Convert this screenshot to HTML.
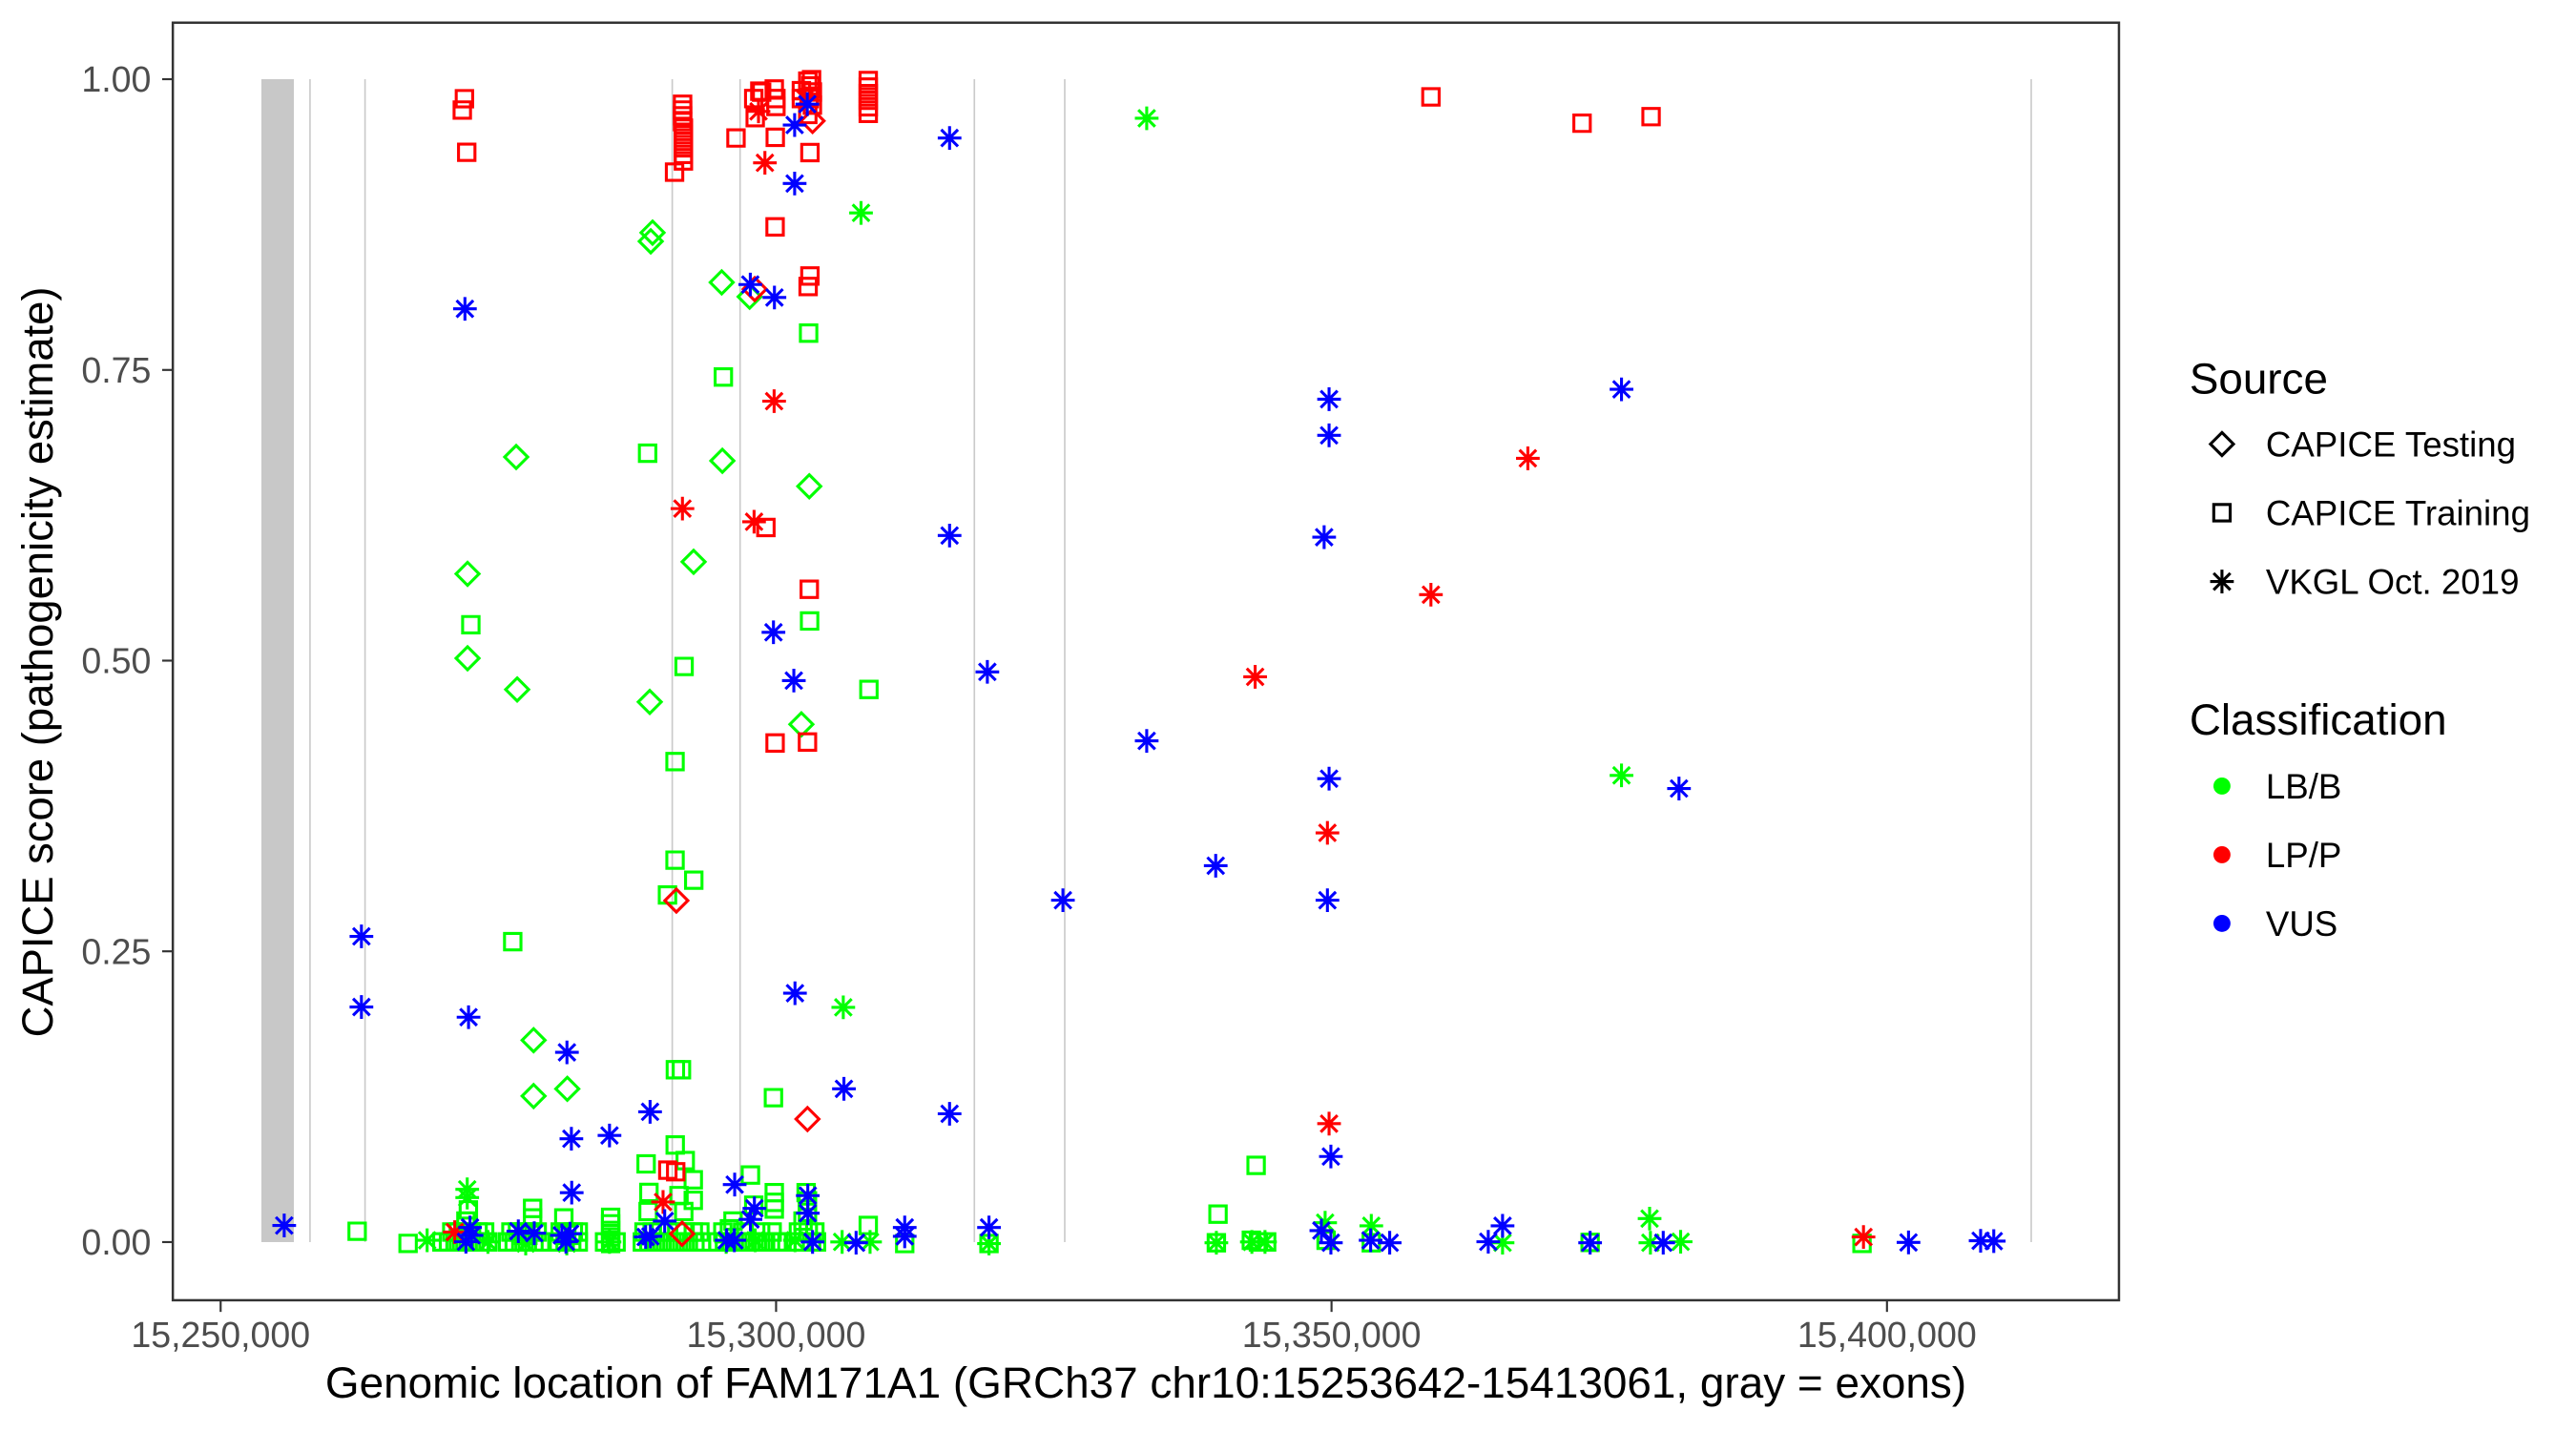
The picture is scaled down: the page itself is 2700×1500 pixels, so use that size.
<!DOCTYPE html>
<html><head><meta charset="utf-8"><style>html,body{margin:0;padding:0;background:#fff}svg{display:block}</style></head>
<body>
<svg xmlns="http://www.w3.org/2000/svg" width="2700" height="1500" viewBox="0 0 1568 871.1" preserveAspectRatio="none" font-family="'Liberation Sans', Arial, sans-serif">
<defs>
<path id="s" d="M-5,-5h10v10h-10z"/>
<path id="d" d="M0,-7L7,0L0,7L-7,0z"/>
<path id="a" d="M0,-7.2V7.2M-7.2,0H7.2M-5.1,-5.1L5.1,5.1M-5.1,5.1L5.1,-5.1"/>
</defs>
<rect width="1568" height="871.1" fill="#fff"/>
<!-- exons -->
<rect x="159.1" y="48.2" width="19.8" height="707.9" fill="#C8C8C8"/>
<g stroke="#CACACA" stroke-width="0.95">
<line x1="188.7" y1="48.2" x2="188.7" y2="756.1"/>
<line x1="222.2" y1="48.2" x2="222.2" y2="756.1"/>
<line x1="409.2" y1="48.2" x2="409.2" y2="756.1"/>
<line x1="450.5" y1="48.2" x2="450.5" y2="756.1"/>
<line x1="593.1" y1="48.2" x2="593.1" y2="756.1"/>
<line x1="648.1" y1="48.2" x2="648.1" y2="756.1"/>
<line x1="1236.4" y1="48.2" x2="1236.4" y2="756.1"/>
</g>
<!-- green -->
<g fill="none" stroke="#00FF00" stroke-width="1.8">
<use href="#s" x="492.2" y="202.8"/><use href="#s" x="440.3" y="229.5"/><use href="#s" x="394.2" y="275.9"/><use href="#s" x="286.6" y="380.3"/><use href="#s" x="492.8" y="378"/><use href="#s" x="416.4" y="405.7"/><use href="#s" x="528.9" y="419.7"/><use href="#s" x="410.9" y="463.6"/><use href="#s" x="410.9" y="523.6"/><use href="#s" x="422.3" y="535.8"/><use href="#s" x="406.3" y="544.8"/><use href="#s" x="312.1" y="573.2"/><use href="#s" x="411.1" y="651.2"/><use href="#s" x="414.8" y="651.2"/><use href="#s" x="470.8" y="668.2"/><use href="#s" x="411" y="697"/><use href="#s" x="456.8" y="715.3"/><use href="#s" x="393.3" y="708.5"/><use href="#s" x="417.1" y="706.5"/><use href="#s" x="422" y="718.2"/><use href="#s" x="395" y="725.9"/><use href="#s" x="422" y="730.7"/><use href="#s" x="413.3" y="727.8"/><use href="#s" x="394.5" y="737.5"/><use href="#s" x="416.2" y="737.5"/><use href="#s" x="285.1" y="736.5"/><use href="#s" x="283.6" y="743.3"/><use href="#s" x="324.2" y="735.6"/><use href="#s" x="324.2" y="741.4"/><use href="#s" x="343.2" y="741.4"/><use href="#s" x="371.7" y="741"/><use href="#s" x="371.7" y="745"/><use href="#s" x="371.7" y="749"/><use href="#s" x="371.7" y="753"/><use href="#s" x="371.7" y="757"/><use href="#s" x="471.3" y="726"/><use href="#s" x="471.3" y="731.9"/><use href="#s" x="471.3" y="736"/><use href="#s" x="458.8" y="733.6"/><use href="#s" x="446.2" y="743.3"/><use href="#s" x="444" y="748"/><use href="#s" x="490.7" y="726"/><use href="#s" x="491.5" y="731"/><use href="#s" x="491.5" y="738"/><use href="#s" x="488.8" y="743.3"/><use href="#s" x="528.5" y="746"/><use href="#s" x="550.7" y="757"/><use href="#s" x="217.4" y="749.5"/><use href="#s" x="248.4" y="756.9"/><use href="#s" x="764.6" y="709.4"/><use href="#s" x="741.4" y="739.1"/><use href="#s" x="740.4" y="756.5"/><use href="#s" x="761.7" y="755"/><use href="#s" x="766" y="756"/><use href="#s" x="771" y="756"/><use href="#s" x="807.2" y="755"/><use href="#s" x="834.7" y="756.5"/><use href="#s" x="967.9" y="756.3"/><use href="#s" x="1133.4" y="756.9"/><use href="#s" x="602" y="757"/>
<use href="#s" x="275" y="750"/><use href="#s" x="279" y="750"/><use href="#s" x="283" y="750"/><use href="#s" x="287" y="750"/><use href="#s" x="291" y="750"/><use href="#s" x="295" y="750"/>
<use href="#s" x="269" y="756"/><use href="#s" x="273" y="756"/><use href="#s" x="277" y="756"/><use href="#s" x="281" y="756"/><use href="#s" x="285" y="756"/><use href="#s" x="289" y="756"/><use href="#s" x="293" y="756"/><use href="#s" x="297" y="756"/>
<use href="#s" x="311" y="750"/><use href="#s" x="315" y="750"/><use href="#s" x="319" y="750"/><use href="#s" x="323" y="750"/><use href="#s" x="327" y="750"/>
<use href="#s" x="309" y="756"/><use href="#s" x="313" y="756"/><use href="#s" x="317" y="756"/><use href="#s" x="321" y="756"/><use href="#s" x="325" y="756"/><use href="#s" x="329" y="756"/>
<use href="#s" x="341" y="750"/><use href="#s" x="345" y="750"/><use href="#s" x="349" y="750"/><use href="#s" x="352" y="750"/>
<use href="#s" x="340" y="756"/><use href="#s" x="344" y="756"/><use href="#s" x="348" y="756"/><use href="#s" x="352" y="756"/>
<use href="#s" x="368" y="756"/><use href="#s" x="375" y="756"/>
<use href="#s" x="392" y="750"/><use href="#s" x="397" y="750"/><use href="#s" x="402" y="750"/><use href="#s" x="407" y="750"/><use href="#s" x="412" y="750"/><use href="#s" x="417" y="750"/><use href="#s" x="422" y="750"/><use href="#s" x="426" y="750"/>
<use href="#s" x="391" y="756"/><use href="#s" x="395" y="756"/><use href="#s" x="399" y="756"/><use href="#s" x="403" y="756"/><use href="#s" x="407" y="756"/><use href="#s" x="411" y="756"/><use href="#s" x="415" y="756"/><use href="#s" x="419" y="756"/><use href="#s" x="423" y="756"/><use href="#s" x="427" y="756"/>
<use href="#s" x="437" y="756"/><use href="#s" x="441" y="756"/><use href="#s" x="445" y="756"/><use href="#s" x="449" y="756"/><use href="#s" x="453" y="756"/><use href="#s" x="457" y="756"/><use href="#s" x="461" y="756"/><use href="#s" x="465" y="756"/><use href="#s" x="469" y="756"/><use href="#s" x="473" y="756"/><use href="#s" x="476" y="756"/>
<use href="#s" x="440" y="750"/><use href="#s" x="452" y="750"/><use href="#s" x="463" y="750"/><use href="#s" x="470" y="750"/>
<use href="#s" x="486" y="750"/><use href="#s" x="492" y="750"/><use href="#s" x="496" y="750"/>
<use href="#s" x="484" y="756"/><use href="#s" x="489" y="756"/><use href="#s" x="494" y="756"/><use href="#s" x="497" y="756"/>
<use href="#d" x="397.2" y="141.6"/><use href="#d" x="396.1" y="146.9"/><use href="#d" x="439.3" y="171.9"/><use href="#d" x="456.3" y="180.6"/><use href="#d" x="314.2" y="278.2"/><use href="#d" x="439.7" y="280.5"/><use href="#d" x="492.6" y="296"/><use href="#d" x="422.2" y="342"/><use href="#d" x="284.6" y="349.3"/><use href="#d" x="284.6" y="400.7"/><use href="#d" x="314.8" y="419.7"/><use href="#d" x="395.5" y="427.3"/><use href="#d" x="487.8" y="440.9"/><use href="#d" x="324.8" y="633.2"/><use href="#d" x="345.3" y="662.8"/><use href="#d" x="324.8" y="667.2"/>
<use href="#a" x="698" y="72"/><use href="#a" x="524.1" y="129.6"/><use href="#a" x="513.3" y="613.2"/><use href="#a" x="260" y="755"/><use href="#a" x="284.4" y="724"/><use href="#a" x="284.4" y="729"/><use href="#a" x="459.7" y="755"/><use href="#a" x="442" y="756"/><use href="#a" x="483.9" y="755"/><use href="#a" x="512.6" y="756"/><use href="#a" x="529.6" y="756"/><use href="#a" x="371" y="756"/><use href="#a" x="740.4" y="756.5"/><use href="#a" x="762" y="756"/><use href="#a" x="770" y="756"/><use href="#a" x="806.6" y="744.3"/><use href="#a" x="834.7" y="746.2"/><use href="#a" x="914.6" y="756.5"/><use href="#a" x="1004.1" y="741.8"/><use href="#a" x="1004.6" y="756.5"/><use href="#a" x="1023" y="755.9"/><use href="#a" x="987" y="472"/><use href="#a" x="602" y="757"/><use href="#a" x="320" y="757"/><use href="#a" x="345" y="757"/><use href="#a" x="297" y="756"/>
</g>
<!-- red -->
<g fill="none" stroke="#FF0000" stroke-width="1.8">
<use href="#s" x="282.7" y="60.1"/><use href="#s" x="281.4" y="67"/><use href="#s" x="284.1" y="92.7"/>
<use href="#s" x="415.5" y="63.5"/><use href="#s" x="415.5" y="67"/><use href="#s" x="415.5" y="70.5"/><use href="#s" x="415.5" y="74"/><use href="#s" x="416" y="78"/><use href="#s" x="416" y="82"/><use href="#s" x="416" y="86"/><use href="#s" x="416" y="90"/><use href="#s" x="416" y="94"/><use href="#s" x="416" y="98"/>
<use href="#s" x="410.6" y="104.8"/><use href="#s" x="448" y="84"/>
<use href="#s" x="458.8" y="60"/><use href="#s" x="463.6" y="56.1"/><use href="#s" x="471.3" y="54.2"/><use href="#s" x="472.3" y="60"/><use href="#s" x="472.3" y="64.8"/><use href="#s" x="459.7" y="71.6"/><use href="#s" x="462.5" y="55.5"/><use href="#s" x="471.9" y="83.6"/>
<use href="#s" x="487.8" y="55.2"/><use href="#s" x="491.7" y="49.4"/><use href="#s" x="493.6" y="52.3"/><use href="#s" x="487.8" y="60"/><use href="#s" x="492.5" y="60"/><use href="#s" x="491.7" y="69.7"/><use href="#s" x="494" y="48.5"/><use href="#s" x="494.5" y="56"/><use href="#s" x="494.5" y="64"/>
<use href="#s" x="493" y="92.9"/>
<use href="#s" x="528.5" y="49"/><use href="#s" x="528.5" y="53"/><use href="#s" x="528.5" y="57"/><use href="#s" x="528.5" y="61"/><use href="#s" x="528.5" y="65"/><use href="#s" x="528.5" y="69"/>
<use href="#s" x="471.8" y="138.1"/><use href="#s" x="493" y="168"/><use href="#s" x="491.9" y="174.4"/><use href="#s" x="466.2" y="321.1"/><use href="#s" x="492.6" y="358.7"/><use href="#s" x="471.8" y="452.3"/><use href="#s" x="491.5" y="451.7"/><use href="#s" x="406.5" y="712.3"/><use href="#s" x="411.3" y="713.3"/>
<use href="#s" x="871" y="59"/><use href="#s" x="963" y="75"/><use href="#s" x="1005" y="71"/>
<use href="#d" x="459.4" y="176"/><use href="#d" x="411.7" y="548.2"/><use href="#d" x="491.5" y="681.2"/><use href="#d" x="415.2" y="751"/><use href="#d" x="494.6" y="73.6"/>
<use href="#a" x="461.7" y="67.8"/><use href="#a" x="465.6" y="99.1"/><use href="#a" x="471.2" y="244.2"/><use href="#a" x="415.4" y="309.6"/><use href="#a" x="459" y="317.6"/><use href="#a" x="403.6" y="731.7"/><use href="#a" x="276.8" y="750"/><use href="#a" x="490" y="60"/><use href="#a" x="930" y="279"/><use href="#a" x="871" y="362"/><use href="#a" x="764" y="412"/><use href="#a" x="808" y="507"/><use href="#a" x="809" y="684"/><use href="#a" x="1134.3" y="753"/>
</g>
<!-- blue -->
<g fill="none" stroke="#0000FF" stroke-width="1.8">
<use href="#a" x="173" y="746"/><use href="#a" x="220" y="570"/><use href="#a" x="220" y="613"/><use href="#a" x="283" y="188"/><use href="#a" x="285.2" y="619.2"/><use href="#a" x="345.1" y="640.6"/><use href="#a" x="395.7" y="676.8"/><use href="#a" x="347.8" y="693.2"/><use href="#a" x="371" y="691.2"/><use href="#a" x="348" y="726"/><use href="#a" x="286.1" y="747.2"/><use href="#a" x="283.6" y="755.9"/><use href="#a" x="287" y="752"/><use href="#a" x="315.5" y="749.5"/><use href="#a" x="325.2" y="750.7"/><use href="#a" x="344.5" y="755.9"/><use href="#a" x="342" y="752"/><use href="#a" x="347" y="751"/><use href="#a" x="393" y="753"/><use href="#a" x="404.6" y="743.3"/><use href="#a" x="395.9" y="752.6"/><use href="#a" x="447.2" y="721.1"/><use href="#a" x="459.2" y="735.6"/><use href="#a" x="456.8" y="742.3"/><use href="#a" x="442.3" y="755"/><use href="#a" x="447" y="755"/><use href="#a" x="491.7" y="727.8"/><use href="#a" x="491.7" y="738.5"/><use href="#a" x="494.6" y="756"/><use href="#a" x="521.1" y="756.5"/><use href="#a" x="550.7" y="747.2"/><use href="#a" x="550.7" y="752.6"/><use href="#a" x="602" y="747.2"/>
<use href="#a" x="483.7" y="111.7"/><use href="#a" x="483.7" y="76.1"/><use href="#a" x="491.4" y="63.4"/><use href="#a" x="456.7" y="173.2"/><use href="#a" x="471.4" y="181.1"/><use href="#a" x="470.8" y="384.9"/><use href="#a" x="483.2" y="414.3"/><use href="#a" x="483.9" y="604.6"/><use href="#a" x="513.7" y="662.8"/>
<use href="#a" x="578" y="84"/><use href="#a" x="578" y="326"/><use href="#a" x="601" y="409"/><use href="#a" x="578" y="678"/><use href="#a" x="698" y="451"/><use href="#a" x="740" y="527"/><use href="#a" x="647" y="548"/><use href="#a" x="809" y="243"/><use href="#a" x="809" y="265"/><use href="#a" x="806" y="327"/><use href="#a" x="809" y="474"/><use href="#a" x="808" y="548"/><use href="#a" x="810.1" y="704"/><use href="#a" x="804.3" y="749.1"/><use href="#a" x="810.1" y="756.5"/><use href="#a" x="834.3" y="755"/><use href="#a" x="845.9" y="756.5"/><use href="#a" x="914.6" y="746.2"/><use href="#a" x="905.9" y="755.9"/><use href="#a" x="967.9" y="756.5"/><use href="#a" x="1012.4" y="756.5"/><use href="#a" x="1161.7" y="756.3"/><use href="#a" x="1205.6" y="755.3"/><use href="#a" x="1213.6" y="755.5"/><use href="#a" x="987" y="237"/><use href="#a" x="1022" y="480"/>
</g>
<!-- panel border -->
<rect x="105.2" y="13.8" width="1184.6" height="777.7" fill="none" stroke="#333333" stroke-width="1.45"/>
<!-- axis ticks -->
<g stroke="#333333" stroke-width="1.25">
<line x1="98.7" y1="48.2" x2="105.2" y2="48.2"/>
<line x1="98.7" y1="225.2" x2="105.2" y2="225.2"/>
<line x1="98.7" y1="402.15" x2="105.2" y2="402.15"/>
<line x1="98.7" y1="579.1" x2="105.2" y2="579.1"/>
<line x1="98.7" y1="756.1" x2="105.2" y2="756.1"/>
<line x1="134.3" y1="791.5" x2="134.3" y2="798.6"/>
<line x1="472.4" y1="791.5" x2="472.4" y2="798.6"/>
<line x1="810.5" y1="791.5" x2="810.5" y2="798.6"/>
<line x1="1148.6" y1="791.5" x2="1148.6" y2="798.6"/>
</g>
<g fill="#4D4D4D" font-size="21.8" text-anchor="end">
<text x="92" y="55.8">1.00</text>
<text x="92" y="232.8">0.75</text>
<text x="92" y="409.7">0.50</text>
<text x="92" y="586.7">0.25</text>
<text x="92" y="763.7">0.00</text>
</g>
<g fill="#4D4D4D" font-size="21.8" text-anchor="middle">
<text x="134.3" y="820">15,250,000</text>
<text x="472.4" y="820">15,300,000</text>
<text x="810.5" y="820">15,350,000</text>
<text x="1148.6" y="820">15,400,000</text>
</g>
<text x="697.5" y="850.7" font-size="26.6" text-anchor="middle" fill="#000" textLength="999" lengthAdjust="spacingAndGlyphs">Genomic location of FAM171A1 (GRCh37 chr10:15253642-15413061, gray = exons)</text>
<text transform="translate(32,403) rotate(-90)" font-size="26.6" text-anchor="middle" fill="#000" textLength="457" lengthAdjust="spacingAndGlyphs">CAPICE score (pathogenicity estimate)</text>
<!-- legend -->
<text x="1332.7" y="239.5" font-size="26.6" fill="#000">Source</text>
<g fill="none" stroke="#000" stroke-width="1.8">
<use href="#d" x="1352.5" y="270.3"/>
<use href="#s" x="1352.5" y="312.1"/>
<use href="#a" x="1352.5" y="354"/>
</g>
<g font-size="21.3" fill="#000">
<text x="1379.2" y="277.9">CAPICE Testing</text>
<text x="1379.2" y="319.7">CAPICE Training</text>
<text x="1379.2" y="361.6">VKGL Oct. 2019</text>
</g>
<text x="1332.7" y="447.2" font-size="26.6" fill="#000">Classification</text>
<circle cx="1352.5" cy="478.5" r="5.2" fill="#00FF00"/>
<circle cx="1352.5" cy="520.3" r="5.2" fill="#FF0000"/>
<circle cx="1352.5" cy="562.1" r="5.2" fill="#0000FF"/>
<g font-size="21.3" fill="#000">
<text x="1379.2" y="486.1">LB/B</text>
<text x="1379.2" y="527.9">LP/P</text>
<text x="1379.2" y="569.7">VUS</text>
</g>
</svg>
</body></html>
